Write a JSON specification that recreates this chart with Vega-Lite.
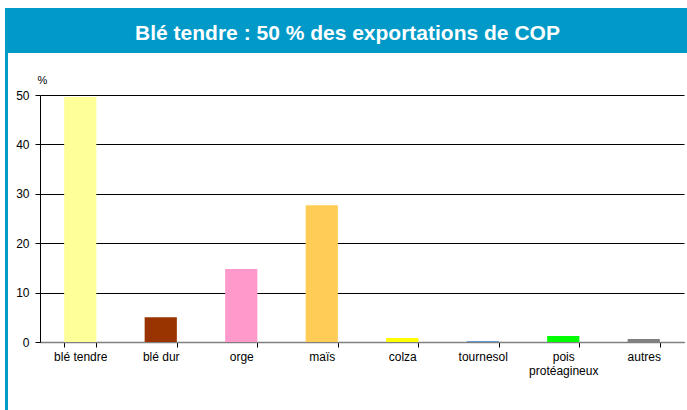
{
  "$schema": "https://vega.github.io/schema/vega-lite/v6.json",
  "padding": {"left": 5, "top": 8, "right": 0, "bottom": 0},
  "background": "white",
  "spacing": 0,
  "config": {
    "font": "Liberation Sans",
    "view": {"stroke": null},
    "concat": {"spacing": 0}
  },
  "datasets": {
    "exports": [
      {"culture": "blé tendre", "part": 49.6},
      {"culture": "blé dur", "part": 5.0},
      {"culture": "orge", "part": 14.8},
      {"culture": "maïs", "part": 27.7},
      {"culture": "colza", "part": 0.8},
      {"culture": "tournesol", "part": 0.2},
      {"culture": "pois protéagineux", "part": 1.2},
      {"culture": "autres", "part": 0.6}
    ],
    "titre": [{"texte": "Blé tendre : 50 % des exportations de COP"}]
  },
  "hconcat": [
    {
      "width": 3,
      "height": 402,
      "view": {"fill": "#0099C8", "stroke": null},
      "data": {"name": "titre"},
      "mark": {"type": "text", "opacity": 0},
      "encoding": {"text": {"value": ""}}
    },
    {
      "spacing": 21,
      "vconcat": [
        {
          "width": 679,
          "height": 45,
          "view": {"fill": "#0099C8", "stroke": null},
          "data": {"name": "titre"},
          "mark": {"type": "text", "color": "white", "fontSize": 21, "fontWeight": "bold", "font": "Liberation Sans", "dy": 3},
          "encoding": {"text": {"field": "texte"}}
        },
        {
          "spacing": 0,
          "hconcat": [
            {
              "width": 1,
              "height": 247,
              "data": {"name": "titre"},
              "mark": {"type": "text", "opacity": 0},
              "encoding": {"text": {"value": ""}}
            },
            {
              "width": 644,
              "height": 247,
              "data": {"name": "exports"},
              "mark": {"type": "bar"},
              "encoding": {
                "x": {
                  "field": "culture",
                  "type": "nominal",
                  "sort": null,
                  "scale": {"paddingInner": 0.6, "paddingOuter": 0.3},
                  "axis": {
                    "title": null,
                    "labelAngle": 0,
                    "labelFontSize": 12,
                    "labelColor": "#000",
                    "labelPadding": 4,
                    "tickBand": "extent",
                    "tickSize": 5,
                    "tickColor": "#000",
                    "domainColor": "#808080",
                    "domainWidth": 1.5,
                    "labelExpr": "datum.label == 'pois protéagineux' ? ['pois', 'protéagineux'] : datum.label"
                  }
                },
                "y": {
                  "field": "part",
                  "type": "quantitative",
                  "scale": {"domain": [0, 50], "nice": false},
                  "axis": {
                    "values": [0, 10, 20, 30, 40, 50],
                    "title": "%",
                    "titleAngle": 0,
                    "titleAlign": "left",
                    "titleBaseline": "bottom",
                    "titleX": -3,
                    "titleY": -10,
                    "titleFontWeight": "normal",
                    "titleFontSize": 11,
                    "titleColor": "#000",
                    "labelFontSize": 12,
                    "labelColor": "#000",
                    "labelPadding": 6,
                    "tickSize": 5,
                    "tickColor": "#000",
                    "domainColor": "#000",
                    "gridColor": "#000",
                    "gridOpacity": 1,
                    "minExtent": 31
                  }
                },
                "color": {
                  "field": "culture",
                  "type": "nominal",
                  "sort": null,
                  "legend": null,
                  "scale": {
                    "domain": ["blé tendre", "blé dur", "orge", "maïs", "colza", "tournesol", "pois protéagineux", "autres"],
                    "range": ["#FFFF99", "#993300", "#FF99CC", "#FFCC55", "#FFFF00", "#6699CC", "#00FF00", "#808080"]
                  }
                }
              }
            }
          ]
        }
      ]
    }
  ]
}
